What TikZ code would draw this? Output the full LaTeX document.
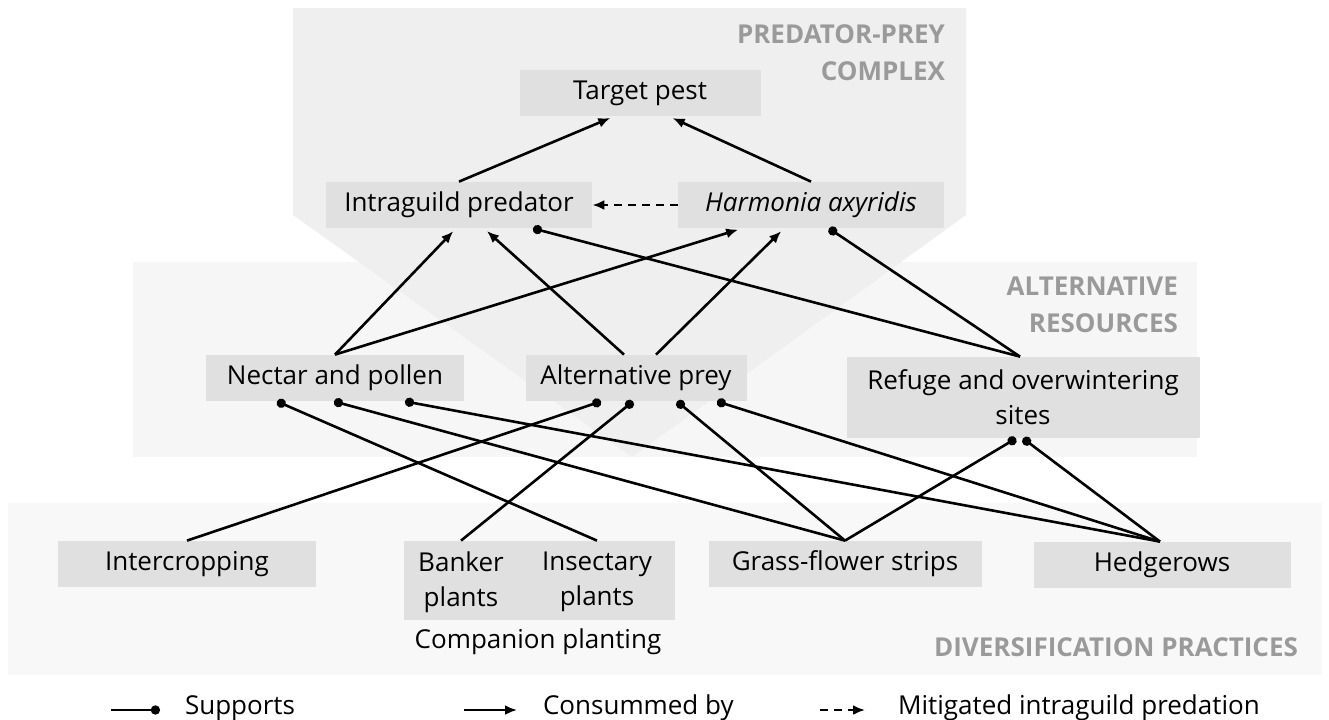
\documentclass[tikz,border=0pt]{standalone}
\usepackage{fontspec}
\setmainfont{Open Sans}
\usetikzlibrary{arrows.meta,calc}
\definecolor{boxgray}{HTML}{E0E0E0}
\definecolor{topgray}{HTML}{EFEFEF}
\definecolor{midgray}{HTML}{F6F6F6}
\definecolor{lowgray}{HTML}{F8F8F8}
\definecolor{headgray}{HTML}{9A9A9A}
\begin{document}
\begin{tikzpicture}[x=0.5pt,y=-0.5pt,
  font=\fontsize{13}{17.5}\selectfont,
  box/.style={fill=boxgray,inner sep=0pt,minimum height=23pt},
  head/.style={anchor=east,align=right,text=headgray,font=\fontsize{13}{18.5}\selectfont\bfseries},
  eats/.style={line width=1.3pt,-{Latex[length=6pt,width=5pt]}},
  helps/.style={line width=1.3pt,-{Circle[length=4.6pt]}},
  mitig/.style={line width=1.3pt,dash pattern=on 4pt off 3pt,-{Latex[length=6pt,width=5pt]}}]
\useasboundingbox (0,0) rectangle (1329,719);
% shaded levels
\fill[lowgray] (8,503) rectangle (1322,675);
\fill[midgray] (133,262) rectangle (1197,457);
\fill[topgray] (293,8) -- (966,8) -- (966,215) -- (632,457) -- (293,215) -- cycle;
\node[head] at (952,53) {PREDATOR-PREY\\COMPLEX};
\node[head] at (1185,305) {ALTERNATIVE\\RESOURCES};
\node[head] at (1305,647) {DIVERSIFICATION PRACTICES};
% predators and prey
\node[box,minimum width=120.5pt] (tp) at (640,93) {Target pest};
\node[box,minimum width=133pt] (ig) at (459,205) {Intraguild predator};
\node[box,minimum width=133pt] (ha) at (811,205) {\itshape Harmonia axyridis};
% resources
\node[box,minimum width=129pt] (np) at (335,378) {Nectar and pollen};
\node[box,minimum width=110.5pt] (ap) at (636,378) {Alternative prey};
\node[box,minimum width=176.5pt,minimum height=40.5pt,align=center] (rf) at (1023,397.5) {Refuge and overwintering\\sites};
% practices
\node[box,minimum width=129pt] (ic) at (187,564) {Intercropping};
\node[box,minimum width=135.5pt,minimum height=39.5pt] (cp) at (539.5,580.5) {};
\node[align=center] (bk) at (461,582) {Banker\\plants};
\node[align=center] (ins) at (597,582) {Insectary\\plants};
\node (cpl) at (538,642) {Companion planting};
\node[box,minimum width=136.5pt] (gf) at (845,564) {Grass-flower strips};
\node[box,minimum width=128.5pt] (hg) at (1162,565) {Hedgerows};
% consumption
\draw[eats,shorten >=2pt] (ig.north) -- ($(tp.south)+(-26,0)$);
\draw[eats,shorten >=2pt] (ha.north) -- ($(tp.south)+(29,0)$);
\draw[mitig] (ha.west) -- (ig.east);
\draw[eats,shorten >=2pt] (np.north) -- ($(ig.south)+(-3,0)$);
\draw[eats,shorten >=2pt] (np.north) -- ($(ha.south)+(-69,0)$);
\draw[eats,shorten >=2pt] ($(ap.north)+(-12,0)$) -- ($(ig.south)+(25,0)$);
\draw[eats,shorten >=2pt] ($(ap.north)+(20,0)$) -- ($(ha.south)+(-27,0)$);
\draw[helps] ($(rf.north)+(-3,0)$) -- ($(ig.south)+(74,0)$);
\draw[helps] ($(rf.north)+(-3,0)$) -- ($(ha.south)+(18,0)$);
% support from practices
\draw[helps] (ins.north |- cp.north) -- ($(np.south)+(-58,0)$);
\draw[helps] (gf.north) -- ($(np.south)+(-1,0)$);
\draw[helps] ($(hg.north)+(-2,0)$) -- ($(np.south)+(70,0)$);
\draw[helps] (ic.north) -- ($(ap.south)+(-35,0)$);
\draw[helps] (bk.north |- cp.north) -- ($(ap.south)+(-3,0)$);
\draw[helps] (gf.north) -- ($(ap.south)+(41,0)$);
\draw[helps] ($(hg.north)+(-2,0)$) -- ($(ap.south)+(81,0)$);
\draw[helps] (gf.north) -- ($(rf.south)+(-7,0)$);
\draw[helps] ($(hg.north)+(-2,0)$) -- (rf.south);
% legend
\coordinate (s1) at (111,710);
\coordinate (s2) at (160,710);
\draw[helps] (s1) -- (s2);
\node[anchor=west] (sup) at (178,708) {Supports};
\coordinate (c1) at (464,710);
\coordinate (c2) at (517,710);
\draw[eats] (c1) -- (c2);
\node[anchor=west] (con) at (536,708) {Consummed by};
\coordinate (m1) at (820,710);
\coordinate (m2) at (865,710);
\draw[mitig] (m1) -- (m2);
\node[anchor=west] (mit) at (891,708) {Mitigated intraguild predation};
\end{tikzpicture}
\end{document}
